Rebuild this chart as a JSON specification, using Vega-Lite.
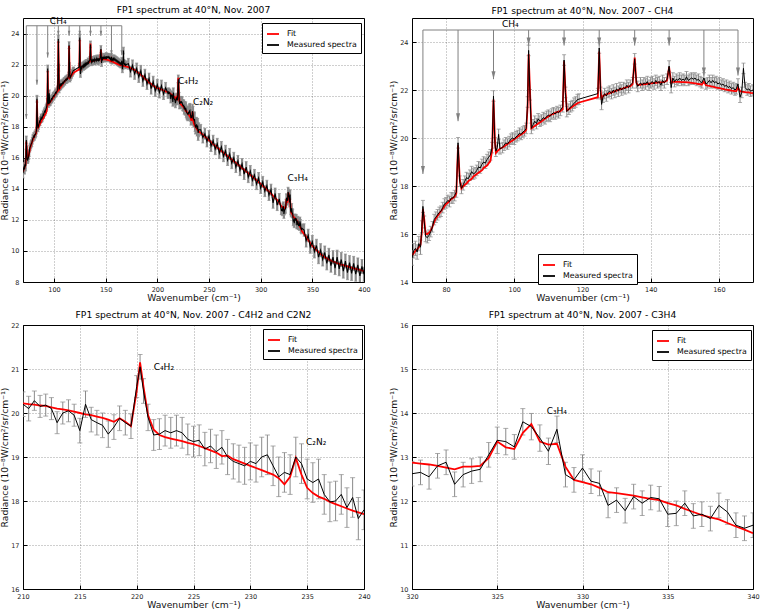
{
"$schema": "https://vega.github.io/schema/vega-lite/v6.json",
"background": "white",
"padding": {"left": 0, "top": 5, "right": 0, "bottom": 0},
"columns": 2,
"spacing": {"row": 6, "column": 18},
"resolve": {"scale": {"color": "independent"}},
"config": {
  "font": "DejaVu Sans",
  "view": {"stroke": "#000", "strokeWidth": 1},
  "title": {"fontSize": 9.2, "fontWeight": "normal", "font": "DejaVu Sans", "color": "#000", "offset": 2},
  "axis": {"domain": false, "grid": true, "gridColor": "#000", "gridOpacity": 0.55, "gridDash": [1, 2], "gridWidth": 0.7, "tickColor": "#000", "tickSize": -4, "labelFont": "DejaVu Sans", "labelFontSize": 6.5, "labelColor": "#222", "labelFlush": false, "labelOverlap": false, "labelPadding": 8, "titleFont": "DejaVu Sans", "titleFontSize": 9.2, "titleFontWeight": "normal", "titleColor": "#111", "titlePadding": 1},
  "legend": {"fillColor": "#fff", "strokeColor": "#000", "padding": 4, "labelFont": "DejaVu Sans", "labelFontSize": 7.8, "labelColor": "#000", "symbolType": "stroke", "symbolStrokeWidth": 1.8, "symbolSize": 144, "rowPadding": 0, "labelOffset": 7, "orient": "none"}
},
"datasets": {
"arrows": [
{"x":73.2,"tip":18.5},{"x":83.5,"tip":20.7},{"x":93.9,"tip":22.45},{"x":104.2,"tip":23.85},{"x":114.6,"tip":23.85},{"x":124.9,"tip":23.85},{"x":135.3,"tip":23.85},{"x":145.4,"tip":23.85},{"x":155.6,"tip":22.6},{"x":165.6,"tip":22.6}
],
"labels": [
{"p":"tl","x":96,"y":24.8,"t":"CH₄"},{"p":"tl","x":220,"y":20.95,"t":"C₄H₂"},{"p":"tl","x":234.5,"y":19.6,"t":"C₂N₂"},{"p":"tl","x":326,"y":14.7,"t":"C₃H₄"},
{"p":"tr","x":96.4,"y":24.75,"t":"CH₄"},
{"p":"bl","x":221.5,"y":21.05,"t":"C₄H₂"},{"p":"bl","x":234.9,"y":19.35,"t":"C₂N₂"},
{"p":"br","x":327.9,"y":14.04,"t":"C₃H₄"}
],
"spec": [
{"x":70,"m":15.0,"e":0.3,"f":15.1},
{"x":70.5,"m":15.3,"e":0.3,"f":15.2},
{"x":71,"m":15.4,"e":0.3,"f":15.3},
{"x":71.5,"m":15.25,"e":0.3,"f":15.35},
{"x":72,"m":15.6,"e":0.3,"f":15.45},
{"x":72.5,"m":15.45,"e":0.3,"f":15.55},
{"x":72.9,"m":16.3,"e":0.25,"f":16.1},
{"x":73.2,"m":17.15,"e":0.25,"f":17.05},
{"x":73.6,"m":16.5,"e":0.25,"f":16.6},
{"x":74,"m":15.9,"e":0.22,"f":16.0},
{"x":74.5,"m":15.85,"e":0.22,"f":16.0},
{"x":75,"m":15.95,"e":0.22,"f":16.05},
{"x":75.5,"m":16.1,"e":0.22,"f":16.15},
{"x":76,"m":16.3,"e":0.22,"f":16.3},
{"x":76.5,"m":16.6,"e":0.22,"f":16.5},
{"x":77,"m":16.7,"e":0.22,"f":16.65},
{"x":77.5,"m":16.8,"e":0.22,"f":16.75},
{"x":78,"m":16.9,"e":0.22,"f":16.85},
{"x":78.5,"m":16.95,"e":0.22,"f":16.95},
{"x":79,"m":17.1,"e":0.22,"f":17.05},
{"x":79.5,"m":17.25,"e":0.22,"f":17.15},
{"x":80,"m":17.3,"e":0.22,"f":17.25},
{"x":80.5,"m":17.4,"e":0.22,"f":17.3},
{"x":81,"m":17.35,"e":0.22,"f":17.38},
{"x":81.5,"m":17.5,"e":0.22,"f":17.45},
{"x":82,"m":17.5,"e":0.22,"f":17.5},
{"x":82.5,"m":17.6,"e":0.22,"f":17.55},
{"x":83,"m":17.75,"e":0.22,"f":17.7},
{"x":83.5,"m":19.8,"e":0.22,"f":19.7},
{"x":84,"m":18.2,"e":0.22,"f":18.3},
{"x":84.5,"m":17.9,"e":0.22,"f":17.9},
{"x":85,"m":18.05,"e":0.22,"f":17.98},
{"x":85.5,"m":18.2,"e":0.22,"f":18.05},
{"x":86,"m":18.35,"e":0.22,"f":18.1},
{"x":86.5,"m":18.3,"e":0.22,"f":18.2},
{"x":87,"m":18.45,"e":0.22,"f":18.25},
{"x":87.5,"m":18.6,"e":0.22,"f":18.3},
{"x":88,"m":18.5,"e":0.22,"f":18.4},
{"x":88.5,"m":18.55,"e":0.22,"f":18.45},
{"x":89,"m":18.65,"e":0.22,"f":18.5},
{"x":89.5,"m":18.8,"e":0.22,"f":18.55},
{"x":90,"m":18.75,"e":0.22,"f":18.6},
{"x":90.5,"m":18.9,"e":0.22,"f":18.65},
{"x":91,"m":19.0,"e":0.22,"f":18.75},
{"x":91.5,"m":18.95,"e":0.22,"f":18.8},
{"x":92,"m":19.1,"e":0.22,"f":18.85},
{"x":92.5,"m":19.2,"e":0.22,"f":18.95},
{"x":93,"m":19.3,"e":0.22,"f":19.05},
{"x":93.5,"m":19.6,"e":0.22,"f":19.5},
{"x":93.9,"m":21.75,"e":0.22,"f":21.6},
{"x":94.3,"m":19.8,"e":0.22,"f":20.0},
{"x":94.6,"m":19.45,"e":0.22,"f":19.38},
{"x":95,"m":19.6,"e":0.22,"f":19.45},
{"x":95.4,"m":20.15,"e":0.22,"f":19.5},
{"x":95.8,"m":19.55,"e":0.22,"f":19.55},
{"x":96.5,"m":19.6,"e":0.22,"f":19.6},
{"x":97,"m":19.7,"e":0.22,"f":19.65},
{"x":97.5,"m":19.8,"e":0.22,"f":19.7},
{"x":98,"m":19.75,"e":0.22,"f":19.75},
{"x":98.5,"m":19.85,"e":0.22,"f":19.8},
{"x":99,"m":19.95,"e":0.22,"f":19.85},
{"x":99.5,"m":20.0,"e":0.22,"f":19.9},
{"x":100,"m":19.95,"e":0.22,"f":19.95},
{"x":100.5,"m":20.05,"e":0.22,"f":20.0},
{"x":101,"m":20.1,"e":0.22,"f":20.05},
{"x":101.5,"m":20.2,"e":0.22,"f":20.1},
{"x":102,"m":20.15,"e":0.22,"f":20.15},
{"x":102.5,"m":20.25,"e":0.22,"f":20.2},
{"x":103,"m":20.3,"e":0.22,"f":20.25},
{"x":103.5,"m":20.4,"e":0.22,"f":20.35},
{"x":103.9,"m":21.5,"e":0.22,"f":21.3},
{"x":104.2,"m":23.65,"e":0.22,"f":23.5},
{"x":104.6,"m":21.8,"e":0.22,"f":22.0},
{"x":105,"m":20.4,"e":0.22,"f":20.4},
{"x":105.5,"m":20.55,"e":0.22,"f":20.45},
{"x":106,"m":20.7,"e":0.22,"f":20.5},
{"x":106.5,"m":20.6,"e":0.22,"f":20.55},
{"x":107,"m":20.8,"e":0.22,"f":20.6},
{"x":107.5,"m":20.7,"e":0.22,"f":20.65},
{"x":108,"m":20.75,"e":0.22,"f":20.7},
{"x":108.5,"m":20.85,"e":0.22,"f":20.75},
{"x":109,"m":20.8,"e":0.22,"f":20.8},
{"x":109.5,"m":20.9,"e":0.22,"f":20.85},
{"x":110,"m":20.95,"e":0.22,"f":20.9},
{"x":110.5,"m":20.9,"e":0.22,"f":20.95},
{"x":111,"m":21.0,"e":0.22,"f":20.98},
{"x":111.5,"m":21.05,"e":0.22,"f":21.0},
{"x":112,"m":21.0,"e":0.22,"f":21.05},
{"x":112.5,"m":21.1,"e":0.22,"f":21.08},
{"x":113,"m":21.05,"e":0.22,"f":21.1},
{"x":113.5,"m":21.15,"e":0.22,"f":21.12},
{"x":114.2,"m":21.3,"e":0.22,"f":21.2},
{"x":114.6,"m":23.25,"e":0.22,"f":23.2},
{"x":115,"m":21.9,"e":0.22,"f":22.0},
{"x":115.4,"m":21.1,"e":0.22,"f":21.15},
{"x":116,"m":21.2,"e":0.22,"f":21.2},
{"x":116.5,"m":21.3,"e":0.22,"f":21.25},
{"x":117,"m":21.35,"e":0.22,"f":21.3},
{"x":117.5,"m":21.45,"e":0.22,"f":21.35},
{"x":118,"m":21.5,"e":0.22,"f":21.4},
{"x":118.5,"m":21.6,"e":0.22,"f":21.45},
{"x":119,"m":21.62,"e":0.22,"f":21.48},
{"x":124.5,"m":21.85,"e":0.22,"f":21.7},
{"x":124.9,"m":23.75,"e":0.22,"f":23.6},
{"x":125.3,"m":21.9,"e":0.22,"f":22.0},
{"x":125.6,"m":21.4,"e":0.22,"f":21.6},
{"x":126,"m":21.7,"e":0.22,"f":21.75},
{"x":126.5,"m":21.85,"e":0.22,"f":21.8},
{"x":127,"m":21.75,"e":0.22,"f":21.82},
{"x":127.5,"m":21.9,"e":0.22,"f":21.85},
{"x":128,"m":21.95,"e":0.22,"f":21.87},
{"x":128.5,"m":21.85,"e":0.22,"f":21.9},
{"x":129,"m":22.0,"e":0.22,"f":21.92},
{"x":129.5,"m":21.9,"e":0.22,"f":21.95},
{"x":130,"m":22.05,"e":0.22,"f":21.97},
{"x":130.5,"m":21.95,"e":0.22,"f":22.0},
{"x":131,"m":22.1,"e":0.22,"f":22.02},
{"x":131.5,"m":22.0,"e":0.22,"f":22.05},
{"x":132,"m":22.1,"e":0.22,"f":22.07},
{"x":132.5,"m":22.05,"e":0.22,"f":22.1},
{"x":133,"m":22.2,"e":0.22,"f":22.12},
{"x":133.5,"m":22.1,"e":0.22,"f":22.15},
{"x":134,"m":22.2,"e":0.22,"f":22.15},
{"x":134.7,"m":22.3,"e":0.22,"f":22.25},
{"x":135.3,"m":23.3,"e":0.22,"f":23.35},
{"x":135.8,"m":22.3,"e":0.22,"f":22.3},
{"x":136.2,"m":22.15,"e":0.22,"f":22.2},
{"x":137,"m":22.3,"e":0.22,"f":22.22},
{"x":137.5,"m":22.2,"e":0.22,"f":22.23},
{"x":138,"m":22.3,"e":0.22,"f":22.24},
{"x":138.5,"m":22.25,"e":0.22,"f":22.25},
{"x":139,"m":22.35,"e":0.22,"f":22.26},
{"x":139.5,"m":22.2,"e":0.22,"f":22.27},
{"x":140,"m":22.3,"e":0.22,"f":22.28},
{"x":140.5,"m":22.35,"e":0.22,"f":22.29},
{"x":141,"m":22.25,"e":0.22,"f":22.3},
{"x":141.5,"m":22.4,"e":0.22,"f":22.3},
{"x":142,"m":22.3,"e":0.22,"f":22.31},
{"x":142.5,"m":22.35,"e":0.22,"f":22.32},
{"x":143,"m":22.2,"e":0.22,"f":22.32},
{"x":143.5,"m":22.4,"e":0.22,"f":22.33},
{"x":144,"m":22.3,"e":0.22,"f":22.33},
{"x":144.8,"m":22.45,"e":0.22,"f":22.4},
{"x":145.4,"m":23.0,"e":0.22,"f":22.95},
{"x":146,"m":22.1,"e":0.22,"f":22.3},
{"x":146.5,"m":22.5,"e":0.22,"f":22.34},
{"x":147,"m":22.35,"e":0.22,"f":22.34},
{"x":147.5,"m":22.45,"e":0.22,"f":22.34},
{"x":148,"m":22.4,"e":0.22,"f":22.34},
{"x":148.5,"m":22.5,"e":0.22,"f":22.34},
{"x":149,"m":22.4,"e":0.22,"f":22.33},
{"x":149.5,"m":22.45,"e":0.22,"f":22.33},
{"x":150,"m":22.4,"e":0.22,"f":22.33},
{"x":150.5,"m":22.55,"e":0.22,"f":22.32},
{"x":151,"m":22.4,"e":0.22,"f":22.32},
{"x":151.5,"m":22.45,"e":0.22,"f":22.31},
{"x":152,"m":22.5,"e":0.22,"f":22.3},
{"x":152.5,"m":22.45,"e":0.22,"f":22.29},
{"x":153,"m":22.5,"e":0.22,"f":22.28},
{"x":153.5,"m":22.4,"e":0.22,"f":22.27},
{"x":154,"m":22.45,"e":0.22,"f":22.25},
{"x":154.5,"m":22.35,"e":0.22,"f":22.24},
{"x":155,"m":22.3,"e":0.22,"f":22.22},
{"x":155.6,"m":22.5,"e":0.22,"f":22.35},
{"x":156.2,"m":22.25,"e":0.22,"f":22.2},
{"x":156.7,"m":22.3,"e":0.22,"f":22.18},
{"x":157.2,"m":22.4,"e":0.22,"f":22.17},
{"x":157.7,"m":22.3,"e":0.22,"f":22.15},
{"x":158.2,"m":22.4,"e":0.22,"f":22.14},
{"x":158.7,"m":22.3,"e":0.22,"f":22.12},
{"x":159.2,"m":22.35,"e":0.22,"f":22.1},
{"x":159.7,"m":22.25,"e":0.22,"f":22.09},
{"x":160.2,"m":22.3,"e":0.22,"f":22.08},
{"x":160.7,"m":22.2,"e":0.22,"f":22.06},
{"x":161.2,"m":22.25,"e":0.22,"f":22.05},
{"x":161.7,"m":22.15,"e":0.22,"f":22.03},
{"x":162.2,"m":22.2,"e":0.22,"f":22.02},
{"x":162.7,"m":22.1,"e":0.22,"f":22.0},
{"x":163.2,"m":22.15,"e":0.22,"f":21.99},
{"x":163.7,"m":22.05,"e":0.22,"f":21.97},
{"x":164.2,"m":22.1,"e":0.22,"f":21.96},
{"x":164.7,"m":22.0,"e":0.22,"f":21.95},
{"x":165.1,"m":22.05,"e":0.22,"f":21.95},
{"x":165.6,"m":22.25,"e":0.22,"f":22.1},
{"x":166.2,"m":21.7,"e":0.22,"f":21.95},
{"x":166.7,"m":21.9,"e":0.22,"f":21.93},
{"x":167.2,"m":22.9,"e":0.22,"f":21.92},
{"x":167.7,"m":22.1,"e":0.22,"f":21.91},
{"x":168.3,"m":22.0,"e":0.22,"f":21.9},
{"x":168.8,"m":22.05,"e":0.22,"f":21.9},
{"x":169.3,"m":21.95,"e":0.22,"f":21.88},
{"x":170,"m":22.0,"e":0.22,"f":21.87},
{"x":172,"m":22.05,"e":0.35,"f":21.83},
{"x":174,"m":21.55,"e":0.35,"f":21.78},
{"x":176,"m":21.95,"e":0.35,"f":21.72},
{"x":178,"m":21.4,"e":0.35,"f":21.65},
{"x":180,"m":21.75,"e":0.35,"f":21.55},
{"x":182,"m":21.2,"e":0.35,"f":21.45},
{"x":184,"m":21.6,"e":0.35,"f":21.35},
{"x":186,"m":20.95,"e":0.35,"f":21.22},
{"x":188,"m":21.35,"e":0.35,"f":21.1},
{"x":190,"m":20.75,"e":0.35,"f":20.98},
{"x":192,"m":21.1,"e":0.35,"f":20.85},
{"x":194,"m":20.45,"e":0.35,"f":20.75},
{"x":196,"m":20.9,"e":0.35,"f":20.65},
{"x":198,"m":20.3,"e":0.35,"f":20.55},
{"x":200,"m":20.7,"e":0.35,"f":20.48},
{"x":202,"m":20.2,"e":0.35,"f":20.45},
{"x":204,"m":20.65,"e":0.35,"f":20.4},
{"x":206,"m":20.1,"e":0.35,"f":20.33},
{"x":208,"m":20.5,"e":0.35,"f":20.28},
{"x":210,"m":20.2,"e":0.28,"f":20.22},
{"x":210.5,"m":20.1,"e":0.28,"f":20.2},
{"x":211,"m":20.28,"e":0.22,"f":20.19},
{"x":211.5,"m":20.15,"e":0.25,"f":20.17},
{"x":212,"m":20.18,"e":0.25,"f":20.16},
{"x":212.5,"m":20.1,"e":0.25,"f":20.13},
{"x":213,"m":19.78,"e":0.25,"f":20.1},
{"x":213.5,"m":20.0,"e":0.25,"f":20.08},
{"x":214,"m":20.05,"e":0.25,"f":20.06},
{"x":214.5,"m":19.95,"e":0.25,"f":20.03},
{"x":215,"m":19.6,"e":0.28,"f":20.0},
{"x":215.5,"m":20.2,"e":0.3,"f":19.97},
{"x":216,"m":19.85,"e":0.28,"f":19.95},
{"x":216.5,"m":19.78,"e":0.28,"f":19.92},
{"x":217,"m":19.72,"e":0.28,"f":19.89},
{"x":217.5,"m":19.52,"e":0.3,"f":19.85},
{"x":218,"m":19.68,"e":0.28,"f":19.8},
{"x":218.5,"m":19.88,"e":0.28,"f":19.88},
{"x":219,"m":19.78,"e":0.28,"f":19.8},
{"x":219.5,"m":19.7,"e":0.28,"f":19.7},
{"x":220,"m":20.6,"e":0.25,"f":20.5},
{"x":220.3,"m":21.05,"e":0.28,"f":21.15},
{"x":220.6,"m":20.5,"e":0.28,"f":20.6},
{"x":221,"m":19.9,"e":0.3,"f":19.95},
{"x":221.5,"m":19.5,"e":0.35,"f":19.62},
{"x":222,"m":19.52,"e":0.35,"f":19.5},
{"x":222.5,"m":19.6,"e":0.35,"f":19.45},
{"x":223,"m":19.55,"e":0.35,"f":19.42},
{"x":223.5,"m":19.6,"e":0.35,"f":19.39},
{"x":224,"m":19.55,"e":0.35,"f":19.36},
{"x":224.5,"m":19.4,"e":0.35,"f":19.32},
{"x":225,"m":19.35,"e":0.35,"f":19.29},
{"x":225.5,"m":19.38,"e":0.35,"f":19.25},
{"x":226,"m":19.18,"e":0.38,"f":19.2},
{"x":226.5,"m":19.25,"e":0.38,"f":19.15},
{"x":227,"m":19.12,"e":0.38,"f":19.1},
{"x":227.5,"m":19.22,"e":0.38,"f":19.02},
{"x":228,"m":19.0,"e":0.4,"f":19.03},
{"x":228.5,"m":18.9,"e":0.4,"f":18.95},
{"x":229,"m":18.85,"e":0.42,"f":18.9},
{"x":229.5,"m":18.8,"e":0.42,"f":18.85},
{"x":230,"m":18.9,"e":0.42,"f":18.8},
{"x":230.5,"m":18.85,"e":0.42,"f":18.75},
{"x":231,"m":19.0,"e":0.45,"f":18.7},
{"x":231.5,"m":19.05,"e":0.45,"f":18.65},
{"x":232,"m":18.8,"e":0.45,"f":18.6},
{"x":232.5,"m":18.55,"e":0.45,"f":18.52},
{"x":233,"m":18.65,"e":0.45,"f":18.38},
{"x":233.5,"m":18.6,"e":0.45,"f":18.55},
{"x":234,"m":19.0,"e":0.45,"f":18.98},
{"x":234.5,"m":18.85,"e":0.45,"f":18.6},
{"x":235,"m":18.5,"e":0.45,"f":18.3},
{"x":235.5,"m":18.42,"e":0.45,"f":18.18},
{"x":236,"m":18.5,"e":0.45,"f":18.1},
{"x":236.5,"m":18.15,"e":0.45,"f":18.05},
{"x":237,"m":17.98,"e":0.45,"f":17.98},
{"x":237.5,"m":18.0,"e":0.45,"f":17.93},
{"x":238,"m":18.15,"e":0.45,"f":17.88},
{"x":238.5,"m":17.85,"e":0.45,"f":17.83},
{"x":239,"m":18.08,"e":0.45,"f":17.78},
{"x":239.5,"m":17.6,"e":0.48,"f":17.74},
{"x":240,"m":17.8,"e":0.45,"f":17.7},
{"x":242,"m":17.8,"e":0.35,"f":17.6},
{"x":244,"m":17.3,"e":0.35,"f":17.48},
{"x":246,"m":17.55,"e":0.35,"f":17.37},
{"x":248,"m":17.05,"e":0.35,"f":17.25},
{"x":250,"m":17.4,"e":0.35,"f":17.13},
{"x":252,"m":16.75,"e":0.35,"f":17.0},
{"x":254,"m":17.1,"e":0.35,"f":16.88},
{"x":256,"m":16.55,"e":0.35,"f":16.77},
{"x":258,"m":16.9,"e":0.35,"f":16.65},
{"x":260,"m":16.3,"e":0.35,"f":16.55},
{"x":262,"m":16.7,"e":0.35,"f":16.44},
{"x":264,"m":16.1,"e":0.35,"f":16.33},
{"x":266,"m":16.45,"e":0.35,"f":16.22},
{"x":268,"m":15.85,"e":0.35,"f":16.1},
{"x":270,"m":16.25,"e":0.35,"f":16.0},
{"x":272,"m":15.65,"e":0.35,"f":15.89},
{"x":274,"m":16.0,"e":0.35,"f":15.78},
{"x":276,"m":15.4,"e":0.35,"f":15.67},
{"x":278,"m":15.8,"e":0.35,"f":15.56},
{"x":280,"m":15.2,"e":0.35,"f":15.45},
{"x":282,"m":15.6,"e":0.35,"f":15.34},
{"x":284,"m":14.95,"e":0.35,"f":15.23},
{"x":286,"m":15.4,"e":0.35,"f":15.12},
{"x":288,"m":14.75,"e":0.35,"f":15.0},
{"x":290,"m":15.15,"e":0.35,"f":14.9},
{"x":292,"m":14.55,"e":0.35,"f":14.78},
{"x":294,"m":14.9,"e":0.35,"f":14.67},
{"x":296,"m":14.3,"e":0.35,"f":14.55},
{"x":298,"m":14.7,"e":0.35,"f":14.43},
{"x":300,"m":14.05,"e":0.35,"f":14.32},
{"x":302,"m":14.45,"e":0.35,"f":14.2},
{"x":304,"m":13.85,"e":0.35,"f":14.08},
{"x":306,"m":14.2,"e":0.35,"f":13.95},
{"x":308,"m":13.6,"e":0.35,"f":13.82},
{"x":310,"m":13.95,"e":0.35,"f":13.7},
{"x":312,"m":13.1,"e":0.35,"f":13.55},
{"x":314,"m":13.7,"e":0.35,"f":13.42},
{"x":316,"m":12.95,"e":0.35,"f":13.28},
{"x":318,"m":13.35,"e":0.35,"f":13.12},
{"x":320,"m":12.62,"e":0.28,"f":12.87},
{"x":320.5,"m":12.65,"e":0.28,"f":12.85},
{"x":321,"m":12.55,"e":0.28,"f":12.83},
{"x":321.5,"m":12.8,"e":0.28,"f":12.8},
{"x":322,"m":12.88,"e":0.28,"f":12.76},
{"x":322.5,"m":12.38,"e":0.28,"f":12.72},
{"x":323,"m":12.6,"e":0.28,"f":12.78},
{"x":323.5,"m":12.68,"e":0.28,"f":12.78},
{"x":324,"m":12.72,"e":0.28,"f":12.8},
{"x":324.5,"m":13.05,"e":0.28,"f":12.98},
{"x":325,"m":13.38,"e":0.3,"f":13.35},
{"x":325.5,"m":13.35,"e":0.3,"f":13.22},
{"x":326,"m":13.23,"e":0.28,"f":13.18},
{"x":326.5,"m":13.8,"e":0.3,"f":13.55},
{"x":327,"m":13.69,"e":0.3,"f":13.75},
{"x":327.5,"m":13.43,"e":0.3,"f":13.35},
{"x":328,"m":13.13,"e":0.3,"f":13.28},
{"x":328.5,"m":13.63,"e":0.3,"f":13.3},
{"x":329,"m":12.6,"e":0.28,"f":12.78},
{"x":329.5,"m":12.48,"e":0.28,"f":12.48},
{"x":330,"m":12.75,"e":0.3,"f":12.43},
{"x":330.5,"m":12.45,"e":0.28,"f":12.38},
{"x":331,"m":12.4,"e":0.28,"f":12.3},
{"x":331.5,"m":11.9,"e":0.28,"f":12.2},
{"x":332,"m":12.02,"e":0.28,"f":12.18},
{"x":332.5,"m":11.78,"e":0.28,"f":12.15},
{"x":333,"m":12.1,"e":0.28,"f":12.12},
{"x":333.5,"m":11.95,"e":0.28,"f":12.08},
{"x":334,"m":12.08,"e":0.28,"f":12.05},
{"x":334.5,"m":12.05,"e":0.28,"f":12.02},
{"x":335,"m":11.7,"e":0.28,"f":11.95},
{"x":335.5,"m":11.72,"e":0.28,"f":11.9},
{"x":336,"m":11.95,"e":0.28,"f":11.82},
{"x":336.5,"m":11.66,"e":0.28,"f":11.75},
{"x":337,"m":11.7,"e":0.28,"f":11.68},
{"x":337.5,"m":11.6,"e":0.28,"f":11.63},
{"x":338,"m":11.9,"e":0.28,"f":11.58},
{"x":338.5,"m":11.75,"e":0.28,"f":11.5},
{"x":339,"m":11.45,"e":0.28,"f":11.42},
{"x":339.5,"m":11.38,"e":0.28,"f":11.35},
{"x":340,"m":11.45,"e":0.28,"f":11.27},
{"x":342,"m":11.35,"e":0.4,"f":11.1},
{"x":344,"m":10.65,"e":0.4,"f":10.9},
{"x":346,"m":11.0,"e":0.4,"f":10.7},
{"x":348,"m":10.25,"e":0.4,"f":10.5},
{"x":350,"m":10.6,"e":0.4,"f":10.32},
{"x":352,"m":9.95,"e":0.4,"f":10.18},
{"x":354,"m":10.35,"e":0.4,"f":10.05},
{"x":356,"m":9.6,"e":0.42,"f":9.92},
{"x":358,"m":10.05,"e":0.42,"f":9.8},
{"x":360,"m":9.45,"e":0.42,"f":9.7},
{"x":362,"m":9.9,"e":0.42,"f":9.6},
{"x":364,"m":9.2,"e":0.42,"f":9.52},
{"x":366,"m":9.75,"e":0.42,"f":9.45},
{"x":368,"m":9.05,"e":0.42,"f":9.38},
{"x":370,"m":9.6,"e":0.42,"f":9.32},
{"x":372,"m":8.9,"e":0.42,"f":9.27},
{"x":374,"m":9.6,"e":0.45,"f":9.22},
{"x":376,"m":8.85,"e":0.45,"f":9.17},
{"x":378,"m":9.45,"e":0.45,"f":9.12},
{"x":380,"m":8.7,"e":0.45,"f":9.08},
{"x":382,"m":9.35,"e":0.45,"f":9.04},
{"x":384,"m":8.6,"e":0.45,"f":9.0},
{"x":386,"m":9.25,"e":0.45,"f":8.96},
{"x":388,"m":8.55,"e":0.45,"f":8.92},
{"x":390,"m":9.2,"e":0.45,"f":8.88},
{"x":392,"m":8.5,"e":0.45,"f":8.85},
{"x":394,"m":9.1,"e":0.45,"f":8.81},
{"x":396,"m":8.4,"e":0.45,"f":8.78},
{"x":398,"m":9.0,"e":0.45,"f":8.74},
{"x":400,"m":8.5,"e":0.45,"f":8.7}
]
},
"concat": [
{
 "width": 341, "height": 264,
 "title": "FP1 spectrum at 40°N, Nov. 2007",
 "layer": [
  {"data": {"name": "spec"}, "mark": {"type": "errorbar", "ticks": {"size": 3}, "rule": {"strokeWidth": 2.2}, "color": "#8a8a8a", "clip": true},
   "encoding": {"x": {"field": "x", "type": "quantitative", "title": "Wavenumber (cm⁻¹)", "scale": {"domain": [70, 400], "nice": false, "zero": false}, "axis": {"values": [100, 150, 200, 250, 300, 350, 400], "tickCount": 10, "format": "d"}},
    "y": {"field": "m", "type": "quantitative", "title": "Radiance (10⁻⁸W/cm²/sr/cm⁻¹)", "scale": {"domain": [8, 25], "nice": false, "zero": false}, "axis": {"values": [8, 10, 12, 14, 16, 18, 20, 22, 24], "tickCount": 10, "format": "d"}}, "yError": {"field": "e"}}},
  {"data": {"name": "spec"}, "mark": {"type": "line", "strokeWidth": 1.8, "clip": true},
   "encoding": {"x": {"field": "x", "type": "quantitative", "title": "Wavenumber (cm⁻¹)", "scale": {"domain": [70, 400], "nice": false, "zero": false}, "axis": {"values": [100, 150, 200, 250, 300, 350, 400], "tickCount": 10, "format": "d"}},
    "y": {"field": "f", "type": "quantitative", "title": "Radiance (10⁻⁸W/cm²/sr/cm⁻¹)", "scale": {"domain": [8, 25], "nice": false, "zero": false}, "axis": {"values": [8, 10, 12, 14, 16, 18, 20, 22, 24], "tickCount": 10, "format": "d"}},
    "color": {"datum": "Fit", "type": "nominal", "scale": {"domain": ["Fit", "Measured spectra"], "range": ["#ff0000", "#000000"]}, "legend": {"title": null, "orient": "none", "legendX": 239, "legendY": 5}}}},
  {"data": {"name": "spec"}, "mark": {"type": "line", "strokeWidth": 1.1, "clip": true},
   "encoding": {"x": {"field": "x", "type": "quantitative", "title": "Wavenumber (cm⁻¹)"}, "y": {"field": "m", "type": "quantitative", "title": "Radiance (10⁻⁸W/cm²/sr/cm⁻¹)"}, "color": {"datum": "Measured spectra", "type": "nominal"}}},
  {"data": {"name": "arrows"}, "mark": {"type": "rule", "color": "#808080", "strokeWidth": 1},
   "encoding": {"x": {"aggregate": "min", "field": "x", "type": "quantitative", "title": "Wavenumber (cm⁻¹)"}, "x2": {"aggregate": "max", "field": "x"}, "y": {"datum": 24.5, "type": "quantitative"}}},
  {"data": {"name": "arrows"}, "mark": {"type": "rule", "color": "#808080", "strokeWidth": 1},
   "encoding": {"x": {"field": "x", "type": "quantitative", "title": "Wavenumber (cm⁻¹)"}, "y": {"field": "tip", "type": "quantitative", "title": "Radiance (10⁻⁸W/cm²/sr/cm⁻¹)"}, "y2": {"datum": 24.5}}},
  {"data": {"name": "arrows"}, "mark": {"type": "point", "shape": "M-0.5,-1L0.5,-1L0,1Z", "filled": true, "color": "#808080", "opacity": 1, "size": 25, "yOffset": -2.5},
   "encoding": {"x": {"field": "x", "type": "quantitative", "title": "Wavenumber (cm⁻¹)"}, "y": {"field": "tip", "type": "quantitative", "title": "Radiance (10⁻⁸W/cm²/sr/cm⁻¹)"}}},
  {"data": {"name": "labels"}, "transform": [{"filter": "datum.p == 'tl'"}], "mark": {"type": "text", "align": "left", "baseline": "middle", "fontSize": 9, "font": "DejaVu Sans", "color": "#000"},
   "encoding": {"x": {"field": "x", "type": "quantitative", "title": "Wavenumber (cm⁻¹)"}, "y": {"field": "y", "type": "quantitative", "title": "Radiance (10⁻⁸W/cm²/sr/cm⁻¹)"}, "text": {"field": "t", "type": "nominal"}}}
 ]
},
{
 "width": 341, "height": 264,
 "title": "FP1 spectrum at 40°N, Nov. 2007 - CH4",
 "layer": [
  {"data": {"name": "spec"}, "transform": [{"filter": "datum.x >= 70 && datum.x <= 170"}], "mark": {"type": "errorbar", "ticks": {"size": 4}, "color": "#8a8a8a", "clip": true},
   "encoding": {"x": {"field": "x", "type": "quantitative", "title": "Wavenumber (cm⁻¹)", "scale": {"domain": [70, 170], "nice": false, "zero": false}, "axis": {"values": [80, 100, 120, 140, 160], "tickCount": 10, "format": "d"}},
    "y": {"field": "m", "type": "quantitative", "title": "Radiance (10⁻⁸W/cm²/sr/cm⁻¹)", "scale": {"domain": [14, 25], "nice": false, "zero": false}, "axis": {"values": [14, 16, 18, 20, 22, 24], "tickCount": 10, "format": "d"}}, "yError": {"field": "e"}}},
  {"data": {"name": "spec"}, "transform": [{"filter": "datum.x >= 70 && datum.x <= 170"}], "mark": {"type": "line", "strokeWidth": 1.8, "clip": true},
   "encoding": {"x": {"field": "x", "type": "quantitative", "title": "Wavenumber (cm⁻¹)", "scale": {"domain": [70, 170], "nice": false, "zero": false}, "axis": {"values": [80, 100, 120, 140, 160], "tickCount": 10, "format": "d"}},
    "y": {"field": "f", "type": "quantitative", "title": "Radiance (10⁻⁸W/cm²/sr/cm⁻¹)", "scale": {"domain": [14, 25], "nice": false, "zero": false}, "axis": {"values": [14, 16, 18, 20, 22, 24], "tickCount": 10, "format": "d"}},
    "color": {"datum": "Fit", "type": "nominal", "scale": {"domain": ["Fit", "Measured spectra"], "range": ["#ff0000", "#000000"]}, "legend": {"title": null, "orient": "none", "legendX": 126, "legendY": 236}}}},
  {"data": {"name": "spec"}, "transform": [{"filter": "datum.x >= 70 && datum.x <= 170"}], "mark": {"type": "line", "strokeWidth": 1, "clip": true},
   "encoding": {"x": {"field": "x", "type": "quantitative", "title": "Wavenumber (cm⁻¹)"}, "y": {"field": "m", "type": "quantitative", "title": "Radiance (10⁻⁸W/cm²/sr/cm⁻¹)"}, "color": {"datum": "Measured spectra", "type": "nominal"}}},
  {"data": {"name": "arrows"}, "mark": {"type": "rule", "color": "#808080", "strokeWidth": 1},
   "encoding": {"x": {"aggregate": "min", "field": "x", "type": "quantitative", "title": "Wavenumber (cm⁻¹)"}, "x2": {"aggregate": "max", "field": "x"}, "y": {"datum": 24.5, "type": "quantitative"}}},
  {"data": {"name": "arrows"}, "mark": {"type": "rule", "color": "#808080", "strokeWidth": 1},
   "encoding": {"x": {"field": "x", "type": "quantitative", "title": "Wavenumber (cm⁻¹)"}, "y": {"field": "tip", "type": "quantitative", "title": "Radiance (10⁻⁸W/cm²/sr/cm⁻¹)"}, "y2": {"datum": 24.5}}},
  {"data": {"name": "arrows"}, "mark": {"type": "point", "shape": "M-0.5,-1L0.5,-1L0,1Z", "filled": true, "color": "#808080", "opacity": 1, "size": 64, "yOffset": -4},
   "encoding": {"x": {"field": "x", "type": "quantitative", "title": "Wavenumber (cm⁻¹)"}, "y": {"field": "tip", "type": "quantitative", "title": "Radiance (10⁻⁸W/cm²/sr/cm⁻¹)"}}},
  {"data": {"name": "labels"}, "transform": [{"filter": "datum.p == 'tr'"}], "mark": {"type": "text", "align": "left", "baseline": "middle", "fontSize": 9, "font": "DejaVu Sans", "color": "#000"},
   "encoding": {"x": {"field": "x", "type": "quantitative", "title": "Wavenumber (cm⁻¹)"}, "y": {"field": "y", "type": "quantitative", "title": "Radiance (10⁻⁸W/cm²/sr/cm⁻¹)"}, "text": {"field": "t", "type": "nominal"}}}
 ]
},
{
 "width": 341, "height": 264,
 "title": "FP1 spectrum at 40°N, Nov. 2007 - C4H2 and C2N2",
 "layer": [
  {"data": {"name": "spec"}, "transform": [{"filter": "datum.x >= 210 && datum.x <= 240"}], "mark": {"type": "errorbar", "ticks": {"size": 5}, "color": "#8a8a8a", "clip": true},
   "encoding": {"x": {"field": "x", "type": "quantitative", "title": "Wavenumber (cm⁻¹)", "scale": {"domain": [210, 240], "nice": false, "zero": false}, "axis": {"values": [210, 215, 220, 225, 230, 235, 240], "tickCount": 10, "format": "d"}},
    "y": {"field": "m", "type": "quantitative", "title": "Radiance (10⁻⁸W/cm²/sr/cm⁻¹)", "scale": {"domain": [16, 22], "nice": false, "zero": false}, "axis": {"values": [16, 17, 18, 19, 20, 21, 22], "tickCount": 10, "format": "d"}}, "yError": {"field": "e"}}},
  {"data": {"name": "spec"}, "transform": [{"filter": "datum.x >= 210 && datum.x <= 240"}], "mark": {"type": "line", "strokeWidth": 1.8, "clip": true},
   "encoding": {"x": {"field": "x", "type": "quantitative", "title": "Wavenumber (cm⁻¹)", "scale": {"domain": [210, 240], "nice": false, "zero": false}, "axis": {"values": [210, 215, 220, 225, 230, 235, 240], "tickCount": 10, "format": "d"}},
    "y": {"field": "f", "type": "quantitative", "title": "Radiance (10⁻⁸W/cm²/sr/cm⁻¹)", "scale": {"domain": [16, 22], "nice": false, "zero": false}, "axis": {"values": [16, 17, 18, 19, 20, 21, 22], "tickCount": 10, "format": "d"}},
    "color": {"datum": "Fit", "type": "nominal", "scale": {"domain": ["Fit", "Measured spectra"], "range": ["#ff0000", "#000000"]}, "legend": {"title": null, "orient": "none", "legendX": 240, "legendY": 4}}}},
  {"data": {"name": "spec"}, "transform": [{"filter": "datum.x >= 210 && datum.x <= 240"}], "mark": {"type": "line", "strokeWidth": 1, "clip": true},
   "encoding": {"x": {"field": "x", "type": "quantitative", "title": "Wavenumber (cm⁻¹)"}, "y": {"field": "m", "type": "quantitative", "title": "Radiance (10⁻⁸W/cm²/sr/cm⁻¹)"}, "color": {"datum": "Measured spectra", "type": "nominal"}}},
  {"data": {"name": "labels"}, "transform": [{"filter": "datum.p == 'bl'"}], "mark": {"type": "text", "align": "left", "baseline": "middle", "fontSize": 9, "font": "DejaVu Sans", "color": "#000"},
   "encoding": {"x": {"field": "x", "type": "quantitative", "title": "Wavenumber (cm⁻¹)"}, "y": {"field": "y", "type": "quantitative", "title": "Radiance (10⁻⁸W/cm²/sr/cm⁻¹)"}, "text": {"field": "t", "type": "nominal"}}}
 ]
},
{
 "width": 341, "height": 264,
 "title": "FP1 spectrum at 40°N, Nov. 2007 - C3H4",
 "layer": [
  {"data": {"name": "spec"}, "transform": [{"filter": "datum.x >= 320 && datum.x <= 340"}], "mark": {"type": "errorbar", "ticks": {"size": 5}, "color": "#8a8a8a", "clip": true},
   "encoding": {"x": {"field": "x", "type": "quantitative", "title": "Wavenumber (cm⁻¹)", "scale": {"domain": [320, 340], "nice": false, "zero": false}, "axis": {"values": [320, 325, 330, 335, 340], "tickCount": 10, "format": "d"}},
    "y": {"field": "m", "type": "quantitative", "title": "Radiance (10⁻⁸W/cm²/sr/cm⁻¹)", "scale": {"domain": [10, 16], "nice": false, "zero": false}, "axis": {"values": [10, 11, 12, 13, 14, 15, 16], "tickCount": 10, "format": "d"}}, "yError": {"field": "e"}}},
  {"data": {"name": "spec"}, "transform": [{"filter": "datum.x >= 320 && datum.x <= 340"}], "mark": {"type": "line", "strokeWidth": 1.8, "clip": true},
   "encoding": {"x": {"field": "x", "type": "quantitative", "title": "Wavenumber (cm⁻¹)", "scale": {"domain": [320, 340], "nice": false, "zero": false}, "axis": {"values": [320, 325, 330, 335, 340], "tickCount": 10, "format": "d"}},
    "y": {"field": "f", "type": "quantitative", "title": "Radiance (10⁻⁸W/cm²/sr/cm⁻¹)", "scale": {"domain": [10, 16], "nice": false, "zero": false}, "axis": {"values": [10, 11, 12, 13, 14, 15, 16], "tickCount": 10, "format": "d"}},
    "color": {"datum": "Fit", "type": "nominal", "scale": {"domain": ["Fit", "Measured spectra"], "range": ["#ff0000", "#000000"]}, "legend": {"title": null, "orient": "none", "legendX": 240, "legendY": 5}}}},
  {"data": {"name": "spec"}, "transform": [{"filter": "datum.x >= 320 && datum.x <= 340"}], "mark": {"type": "line", "strokeWidth": 1, "clip": true},
   "encoding": {"x": {"field": "x", "type": "quantitative", "title": "Wavenumber (cm⁻¹)"}, "y": {"field": "m", "type": "quantitative", "title": "Radiance (10⁻⁸W/cm²/sr/cm⁻¹)"}, "color": {"datum": "Measured spectra", "type": "nominal"}}},
  {"data": {"name": "labels"}, "transform": [{"filter": "datum.p == 'br'"}], "mark": {"type": "text", "align": "left", "baseline": "middle", "fontSize": 9, "font": "DejaVu Sans", "color": "#000"},
   "encoding": {"x": {"field": "x", "type": "quantitative", "title": "Wavenumber (cm⁻¹)"}, "y": {"field": "y", "type": "quantitative", "title": "Radiance (10⁻⁸W/cm²/sr/cm⁻¹)"}, "text": {"field": "t", "type": "nominal"}}}
 ]
}
]
}
